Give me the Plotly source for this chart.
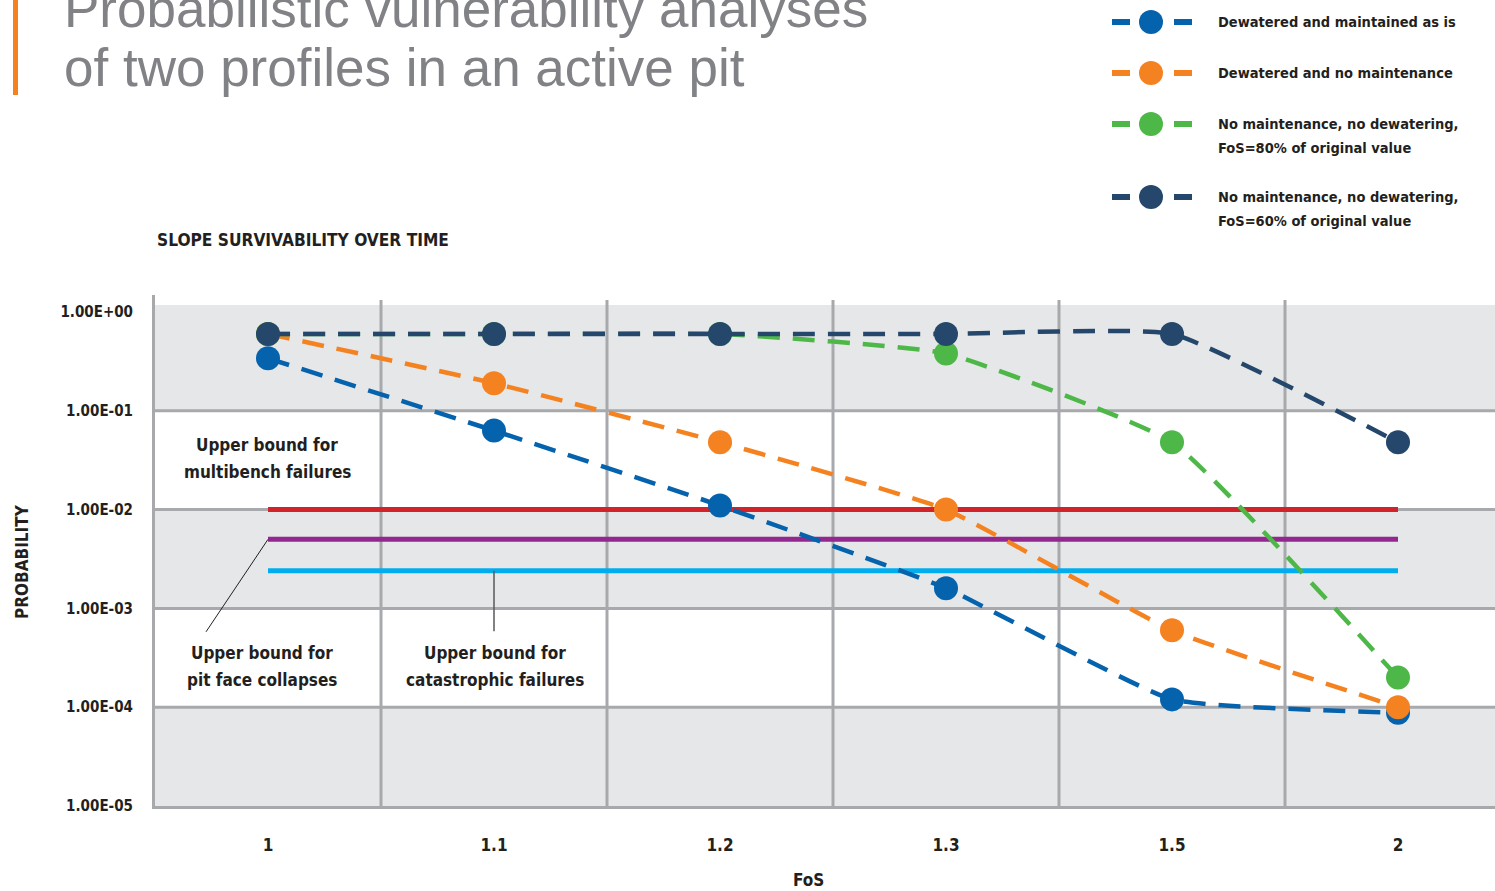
import math
import plotly.graph_objects as go

# ---- data -------------------------------------------------------------
fos_labels = ["1", "1.1", "1.2", "1.3", "1.5", "2"]

maintained_as_is = [0.34, 0.063, 0.011, 0.0016, 0.00012, 0.000088]
no_maintenance = [0.6, 0.19, 0.048, 0.01, 0.0006, 0.0001]
fos_80_pct = [0.6, 0.6, 0.6, 0.38, 0.048, 0.0002]
fos_60_pct = [0.6, 0.6, 0.6, 0.6, 0.6, 0.048]

series_names = [
    "Dewatered and maintained as is",
    "Dewatered and no maintenance",
    "No maintenance, no dewatering,<br>FoS=80% of original value",
    "No maintenance, no dewatering,<br>FoS=60% of original value",
]
series_values = [maintained_as_is, no_maintenance, fos_80_pct, fos_60_pct]
series_colors = ["#0562ad", "#f58220", "#4db848", "#24476b"]

multibench_bound = 0.01
pit_face_bound = 0.005
catastrophic_bound = 0.0024

y_tick_values = [1, 0.1, 0.01, 0.001, 0.0001, 0.00001]
y_tick_labels = ["1.00E+00", "1.00E-01", "1.00E-02", "1.00E-03", "1.00E-04", "1.00E-05"]

# ---- page geometry ----------------------------------------------------
W, H = 1495, 891
ML, MR, MT, MB = 155, 0, 295, 85
PW, PH = W - ML - MR, H - MT - MB


def px(x):
    return (x - ML) / PW


def py(y):
    return (H - MB - y) / PH


COND = "Liberation Sans Narrow, DejaVu Sans Condensed, Arial Narrow, sans-serif"
INK = "#231f20"
GRID = "#a7a9ac"
BAND = "#e6e7e8"


def bold(size, color=INK):
    return dict(family=COND, size=size, color=color, weight="bold")


idx = list(range(len(fos_labels)))

fig = go.Figure()

# threshold lines
for val, col in [(multibench_bound, "#d2232a"), (pit_face_bound, "#92278f"),
                 (catastrophic_bound, "#00aeef")]:
    fig.add_trace(go.Scatter(x=[idx[0], idx[-1]], y=[val, val], mode="lines",
                             line=dict(color=col, width=5), showlegend=False,
                             hoverinfo="skip"))

# probability series
for name, vals, col in zip(series_names, series_values, series_colors):
    fig.add_trace(go.Scatter(
        x=idx, y=vals, mode="lines+markers", name=name,
        line=dict(color=col, width=4.5, dash="22px,13px", shape="spline", smoothing=0.4),
        marker=dict(color=col, size=24),
        showlegend=False,
    ))

shapes = []
# alternating decade bands
for lo, hi in [(0.1, 10 ** 0.07), (0.001, 0.01), (0.00001, 0.0001)]:
    shapes.append(dict(type="rect", xref="paper", yref="y", x0=0, x1=1, y0=lo, y1=hi,
                       fillcolor=BAND, line=dict(width=0), layer="below"))
# horizontal decade lines
for v in [0.1, 0.01, 0.001, 0.0001]:
    shapes.append(dict(type="line", xref="paper", yref="y", x0=0, x1=1, y0=v, y1=v,
                       line=dict(color=GRID, width=3), layer="below"))
# vertical category separators
for k in range(len(fos_labels) - 1):
    shapes.append(dict(type="line", xref="x", yref="y", x0=k + 0.5, x1=k + 0.5,
                       y0=0.00001, y1=10 ** 0.121,
                       line=dict(color=GRID, width=3), layer="below"))
# orange accent bar beside the title
shapes.append(dict(type="rect", xref="paper", yref="paper", x0=px(13), x1=px(18),
                   y0=py(95), y1=py(-5), fillcolor="#f58220", line=dict(width=0)))

annotations = []
# title
title_font = dict(family="Liberation Sans, Arial, sans-serif", size=53, color="#808285")
annotations.append(dict(text="Probabilistic vulnerability analyses", xref="paper", yref="paper",
                        x=px(62), y=py(8), xanchor="left", yanchor="middle", showarrow=False,
                        font=title_font))
annotations.append(dict(text="of two profiles in an active pit", xref="paper", yref="paper",
                        x=px(62), y=py(67), xanchor="left", yanchor="middle", showarrow=False,
                        font=title_font))
annotations.append(dict(text="SLOPE SURVIVABILITY OVER TIME", xref="paper", yref="paper",
                        x=px(155), y=py(240), xanchor="left", yanchor="middle", showarrow=False,
                        font=bold(17.2)))
# axis titles
annotations.append(dict(text="FoS", xref="paper", yref="paper", x=px(808), y=py(880),
                        xanchor="center", yanchor="middle", showarrow=False,
                        font=bold(17)))
annotations.append(dict(text="PROBABILITY", xref="paper", yref="paper", x=px(22), y=py(562),
                        xanchor="center", yanchor="middle", textangle=-90, showarrow=False,
                        font=bold(17)))

# threshold labels, one line at a time
for lines, cx, cy in [(["Upper bound for", "multibench failures"], 267, 445),
                      (["Upper bound for", "pit face collapses"], 262, 653),
                      (["Upper bound for", "catastrophic failures"], 495, 653)]:
    for j, part in enumerate(lines):
        annotations.append(dict(text=part, xref="paper", yref="paper",
                                x=px(cx), y=py(cy + 27 * j), xanchor="center",
                                yanchor="middle", showarrow=False, font=bold(17)))
# leader lines to the threshold lines
annotations.append(dict(text="", xref="x", yref="y", x=0, y=math.log10(pit_face_bound),
                        ax=-63, ay=94, showarrow=True, arrowhead=0, arrowwidth=1,
                        arrowcolor=INK))
annotations.append(dict(text="", xref="x", yref="y", x=1, y=math.log10(catastrophic_bound),
                        ax=0, ay=62, showarrow=True, arrowhead=0, arrowwidth=1.5,
                        arrowcolor="#58595b"))

# legend drawn by hand
legend_rows = [22, 73, 124, 197]
for row, name, col in zip(legend_rows, series_names, series_colors):
    for x0, x1 in [(1112, 1130), (1174, 1192)]:
        shapes.append(dict(type="line", xref="paper", yref="paper", x0=px(x0), x1=px(x1),
                           y0=py(row), y1=py(row), line=dict(color=col, width=6)))
    shapes.append(dict(type="circle", xref="paper", yref="paper", x0=px(1139), x1=px(1163),
                       y0=py(row + 12), y1=py(row - 12), fillcolor=col, line=dict(width=0)))
    for j, part in enumerate(name.split("<br>")):
        annotations.append(dict(text=part, xref="paper", yref="paper",
                                x=px(1216), y=py(row + 24 * j), xanchor="left",
                                yanchor="middle", showarrow=False, font=bold(14.5)))

fig.update_layout(
    width=W, height=H,
    margin=dict(l=ML, r=MR, t=MT, b=MB, pad=0),
    paper_bgcolor="white", plot_bgcolor="white",
    shapes=shapes, annotations=annotations,
    xaxis=dict(range=[-0.5, -0.5 + PW / 226.0], tickvals=idx, ticktext=fos_labels,
               showgrid=False, zeroline=False, showline=True, linecolor=GRID, linewidth=3,
               ticks="", ticklabelstandoff=22, tickfont=bold(17)),
    yaxis=dict(type="log", range=[-5, 0.172], tickvals=y_tick_values, ticktext=y_tick_labels,
               showgrid=False, zeroline=False, showline=True, linecolor=GRID, linewidth=3,
               ticks="", ticklabelstandoff=16, tickfont=bold(15)),
    showlegend=False,
)

fig.write_html("out.html")
